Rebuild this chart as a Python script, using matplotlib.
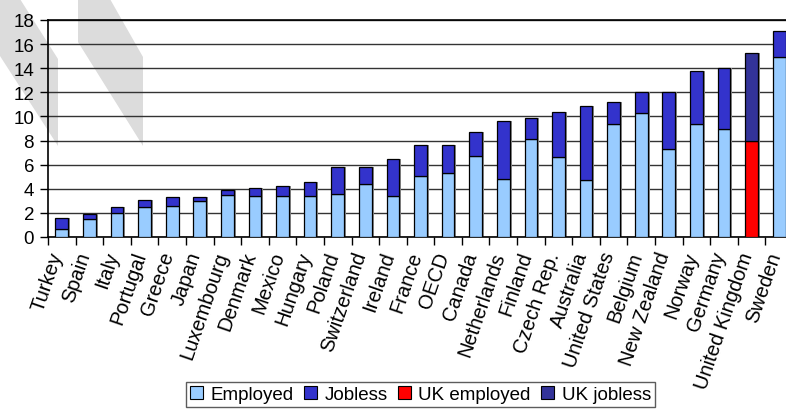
import matplotlib
matplotlib.use('Agg')
import matplotlib.pyplot as plt
from matplotlib.patches import Polygon, Patch
from matplotlib.transforms import ScaledTranslation
import numpy as np

plt.rcParams['font.family'] = ['Liberation Sans', 'DejaVu Sans']

paises = ['Turkey', 'Spain', 'Italy', 'Portugal', 'Greece', 'Japan', 'Luxembourg',
          'Denmark', 'Mexico', 'Hungary', 'Poland', 'Switzerland', 'Ireland', 'France',
          'OECD', 'Canada', 'Netherlands', 'Finland', 'Czech Rep.', 'Australia',
          'United States', 'Belgium', 'New Zealand', 'Norway', 'Germany',
          'United Kingdom', 'Sweden']
empregados = [0.66, 1.49, 1.99, 2.46, 2.57, 2.99, 3.46, 3.37, 3.37, 3.37, 3.54, 4.37,
              3.37, 5.03, 5.31, 6.69, 4.78, 8.10, 6.61, 4.70, 9.34, 10.31, 7.27, 9.34,
              8.93, 7.93, 14.90]
totais = [1.58, 1.91, 2.49, 3.07, 3.32, 3.32, 3.90, 4.06, 4.20, 4.56, 5.78, 5.78,
          6.44, 7.63, 7.63, 8.71, 9.59, 9.87, 10.34, 10.84, 11.17, 12.03, 12.03, 13.77,
          14.02, 15.29, 17.06]
uk = 'United Kingdom'

cor_emp = '#99CCFF'
cor_job = '#3333CC'
cor_uk_emp = '#FF0000'
cor_uk_job = '#333399'

empregados = np.array(empregados)
sem_emprego = np.array(totais) - empregados
x = np.arange(len(paises))
eh_uk = np.array([p == uk for p in paises])

W, H = 786, 410
fig = plt.figure(figsize=(W / 100, H / 100), dpi=100)

# marca d'agua cinza no canto superior esquerdo
def px(pts):
    return [(a / W, 1 - b / H) for a, b in pts]

fig.patches.append(Polygon(px([(0, 0), (20, 0), (58, 60), (58, 147), (0, 57)]),
                           closed=True, transform=fig.transFigure,
                           facecolor='#DCDCDC', edgecolor='none', zorder=-5))
fig.patches.append(Polygon(px([(78, 0), (110, 0), (143, 58), (143, 147), (78, 43)]),
                           closed=True, transform=fig.transFigure,
                           facecolor='#DCDCDC', edgecolor='none', zorder=-5))

# eixo vai um pouco alem da borda direita (como no original)
ax = fig.add_axes([48 / W, 1 - 238 / H, 745 / W, 217 / H])
ax.patch.set_alpha(0)

largura = 0.46
cores_emp = [cor_uk_emp if u else cor_emp for u in eh_uk]
cores_job = [cor_uk_job if u else cor_job for u in eh_uk]

# sombra
ax.bar(x + 0.07, totais, width=largura, color='#8C8C8C', edgecolor='none', zorder=2)
ax.bar(x, empregados, width=largura, color=cores_emp, edgecolor='black',
       linewidth=0.9, zorder=3)
ax.bar(x, sem_emprego, bottom=empregados, width=largura, color=cores_job,
       edgecolor='black', linewidth=0.9, zorder=3)

ax.set_xlim(-0.5, len(paises) - 0.5)
ax.set_ylim(0, 18)
ax.set_yticks(np.arange(0, 19, 2))
ax.yaxis.grid(True, color='#333333', linewidth=1.0, zorder=1)
ax.set_axisbelow(True)

# rotulos do eixo x escritos a mao (para poder deslocar)
ax.set_xticks([])
desloc = ScaledTranslation(-4 / 100, -15 / 100, fig.dpi_scale_trans)
for i, nome in enumerate(paises):
    ax.text(i, 0, nome, transform=ax.get_xaxis_transform() + desloc,
            rotation=71, ha='right', va='center', rotation_mode='anchor',
            fontsize=14.5, clip_on=False)
ax.set_xticks(np.arange(-0.5, len(paises), 1), minor=True)
ax.tick_params(axis='x', which='minor', length=6, width=1, color='black', direction='out')
ax.tick_params(axis='y', length=6, width=1, pad=4, labelsize=13.5, direction='out')

for lado in ['left', 'bottom', 'top']:
    ax.spines[lado].set_color('black')
    ax.spines[lado].set_linewidth(1.2)
ax.spines['right'].set_visible(False)

handles = [Patch(facecolor=cor_emp, edgecolor='black', linewidth=0.8, label='Employed'),
           Patch(facecolor=cor_job, edgecolor='black', linewidth=0.8, label='Jobless'),
           Patch(facecolor=cor_uk_emp, edgecolor='black', linewidth=0.8, label='UK employed'),
           Patch(facecolor=cor_uk_job, edgecolor='black', linewidth=0.8, label='UK jobless')]
leg = fig.legend(handles=handles, loc='upper left', bbox_to_anchor=(186 / W, 1 - 383 / H),
                 ncol=4, fontsize=13.5, frameon=True, fancybox=False,
                 handlelength=0.7, handleheight=0.7, handletextpad=0.4,
                 columnspacing=0.55, borderpad=0.2, borderaxespad=0)
leg.get_frame().set_edgecolor('#333333')
leg.get_frame().set_linewidth(1.0)

fig.savefig('out.png', dpi=100)
